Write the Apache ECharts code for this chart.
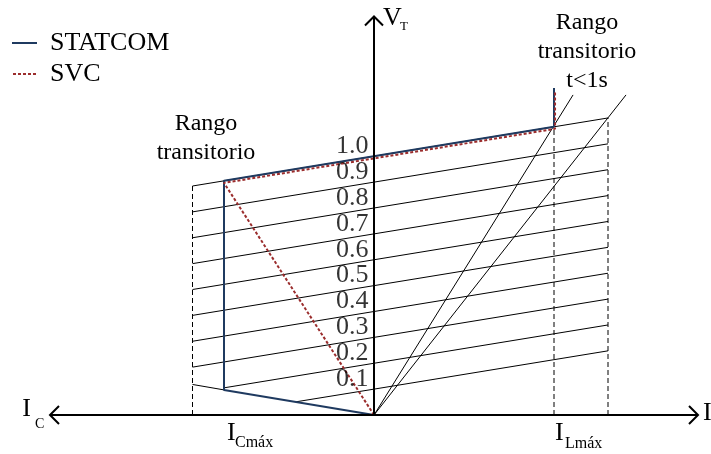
<!DOCTYPE html>
<html>
<head>
<meta charset="utf-8">
<script src="https://cdn.jsdelivr.net/npm/echarts@6/dist/echarts.min.js"></script>
<style>
  html, body { margin: 0; padding: 0; background: #fff; }
  #chart { width: 711px; height: 454px; }
</style>
</head>
<body>
<div id="chart"></div>
<script>
// ---- Rectas de carga del sistema (una por nivel de tensión) ----
const levelLabels = ['1.0', '0.9', '0.8', '0.7', '0.6', '0.5', '0.4', '0.3', '0.2', '0.1'];
const levelValues = [1.0, 0.9, 0.8, 0.7, 0.6, 0.5, 0.4, 0.3, 0.2, 0.1];
const lineStartI  = [-1.21, -1.21, -1.21, -1.21, -1.21, -1.21, -1.21, -1.21, -1.0, -0.52];
const lineStartV  = [0.885, 0.785, 0.685, 0.585, 0.485, 0.385, 0.285, 0.185, 0.105, 0.051];
const lineEndI    = 1.56;
const lineEndV    = [1.148, 1.048, 0.948, 0.848, 0.748, 0.648, 0.548, 0.448, 0.348, 0.248];

// ---- Característica del STATCOM ----
const statcomI = [0, -1.0, -1.0, 1.2, 1.2];
const statcomV = [0, 0.097, 0.905, 1.114, 1.264];

// ---- Característica del SVC ----
const svcI = [0, -1.0, 1.207, 1.207];
const svcV = [0, 0.897, 1.106, 1.248];

// Prolongación de la rama capacitiva
const capExtI = [-1.21, -1.0];
const capExtV = [0.118, 0.097];

// Rectas inductivas desde el origen
const indRayI = [1.327, 1.68];
const indRayV = [1.237, 1.237];

// Límites de corriente (verticales discontinuas)
const limitI = [-1.21, 1.2, 1.56];
const limitV = [0.885, 1.114, 1.148];

// Extensión de los ejes
const currentAxis = [-2.16, 2.16];
const voltageAxisTop = 1.54;

const SERIF = 'Liberation Serif';
const BLUE = '#1f3a60';
const RED = '#9b2d2d';

// Iconos de la leyenda: trazo continuo y trazo punteado
const ICON_SOLID = 'path://M0,0h25v2h-25z';
const ICON_DOTTED = 'path://M0,0h3v2h-3zM5,0h3v2h-3zM10,0h3v2h-3zM15,0h3v2h-3zM20,0h3v2h-3z';

const chart = echarts.init(document.getElementById('chart'), null, { renderer: 'canvas' });

const series = [];

// rectas de carga
levelValues.forEach((v, i) => {
  series.push({
    type: 'line', silent: true, symbol: 'none', z: 2,
    data: [[lineStartI[i], lineStartV[i]], [0, v], [lineEndI, lineEndV[i]]],
    lineStyle: { color: '#000', width: 1 }
  });
});

// límites discontinuos
limitI.forEach((x, i) => {
  series.push({
    type: 'line', silent: true, symbol: 'none', z: 2,
    data: [[x, 0], [x, limitV[i]]],
    lineStyle: { color: '#000', width: 1, type: [5, 3] }
  });
});

// prolongación capacitiva
series.push({
  type: 'line', silent: true, symbol: 'none', z: 2,
  data: capExtI.map((x, i) => [x, capExtV[i]]),
  lineStyle: { color: '#000', width: 1 }
});

// rectas inductivas
indRayI.forEach((x, i) => {
  series.push({
    type: 'line', silent: true, symbol: 'none', z: 2,
    data: [[0, 0], [x, indRayV[i]]],
    lineStyle: { color: '#000', width: 1 }
  });
});

// ejes
series.push({
  type: 'line', silent: true, symbol: 'none', z: 5,
  data: [[currentAxis[0], 0], [currentAxis[1], 0]],
  lineStyle: { color: '#000', width: 2 }
});
series.push({
  type: 'line', silent: true, symbol: 'none', z: 5,
  data: [[0, 0], [0, voltageAxisTop]],
  lineStyle: { color: '#000', width: 2 }
});

// puntas de flecha de los ejes
series.push({
  type: 'custom', silent: true, z: 6,
  data: [[currentAxis[1], 0, 0], [currentAxis[0], 0, 180], [0, voltageAxisTop, -90]],
  renderItem(params, api) {
    const p = api.coord([api.value(0), api.value(1)]);
    const a = api.value(2) * Math.PI / 180;
    const dx = Math.cos(a), dy = Math.sin(a);
    const px = -dy, py = dx;
    const back = 9, side = 9;
    return {
      type: 'polyline',
      shape: { points: [
        [p[0] - back * dx + side * px, p[1] - back * dy + side * py],
        [p[0], p[1]],
        [p[0] - back * dx - side * px, p[1] - back * dy - side * py]
      ] },
      style: { stroke: '#000', lineWidth: 2, fill: null }
    };
  }
});

// STATCOM
series.push({
  name: 'STATCOM', type: 'line', silent: true, symbol: 'none', z: 3,
  data: statcomI.map((x, i) => [x, statcomV[i]]),
  lineStyle: { color: BLUE, width: 2 },
  itemStyle: { color: BLUE }
});

// SVC
series.push({
  name: 'SVC', type: 'line', silent: true, symbol: 'none', z: 4,
  data: svcI.map((x, i) => [x, svcV[i]]),
  lineStyle: { color: RED, width: 2, type: [3, 2] },
  itemStyle: { color: RED }
});

// rótulos de nivel de tensión sobre el eje V
series.push({
  type: 'scatter', silent: true, z: 7,
  symbolSize: 1,
  itemStyle: { color: 'rgba(0,0,0,0)' },
  data: levelValues.map(v => [0, v]),
  label: {
    show: true,
    position: 'left',
    distance: 5,
    offset: [0, -10],
    formatter: p => levelLabels[p.dataIndex],
    fontFamily: SERIF,
    fontSize: 26,
    color: '#000'
  }
});

chart.setOption({
  animation: false,
  backgroundColor: '#fff',
  textStyle: { fontFamily: SERIF },
  grid: { left: 50, right: 13, top: 1, bottom: 39 },
  xAxis: { type: 'value', min: currentAxis[0], max: currentAxis[1], show: false },
  yAxis: { type: 'value', min: 0, max: 1.6, show: false },
  legend: {
    data: [
      { name: 'STATCOM', icon: ICON_SOLID },
      { name: 'SVC', icon: ICON_DOTTED }
    ],
    orient: 'vertical',
    left: 12,
    top: 30,
    padding: 0,
    itemGap: 5,
    itemWidth: 25,
    itemHeight: 2,
    selectedMode: false,
    textStyle: { fontFamily: SERIF, fontSize: 26, color: '#000', padding: [0, 0, 0, 8] }
  },
  series
});

// ---- Textos anclados a puntos del gráfico ----
const toPx = (x, y) => chart.convertToPixel({ gridIndex: 0 }, [x, y]);

function txt(x, y, text, size, align, lineHeight) {
  const style = {
    text, fill: '#000',
    fontFamily: SERIF,
    fontSize: size,
    align: align || 'left',
    verticalAlign: 'middle'
  };
  if (lineHeight) style.lineHeight = lineHeight;
  return { type: 'text', x, y, silent: true, style, z: 10 };
}

const tipV = toPx(0, voltageAxisTop);
const tipL = toPx(currentAxis[0], 0);
const tipR = toPx(currentAxis[1], 0);
const cMax = toPx(-1.0, 0);
const lMax = toPx(1.2, 0);
const leftNote = toPx(-1.12, 1.069);
const rightNote = toPx(1.42, 1.405);

chart.setOption({
  graphic: [
    // V_T
    txt(tipV[0] + 9, tipV[1] + 2, 'V', 26),
    txt(tipV[0] + 26, tipV[1] + 10.5, 'T', 13),
    // I_C
    txt(tipL[0] - 19, tipL[1] - 6, 'I', 26, 'right'),
    txt(tipL[0] - 15, tipL[1] + 9.5, 'C', 14),
    // I
    txt(tipR[0] + 5, tipR[1] - 1.5, 'I', 26),
    // I_Cmáx
    txt(cMax[0] + 3, cMax[1] + 18, 'I', 26),
    txt(cMax[0] + 11, cMax[1] + 28, 'Cmáx', 16),
    // I_Lmáx
    txt(lMax[0] + 1, lMax[1] + 18, 'I', 26),
    txt(lMax[0] + 11, lMax[1] + 29, 'Lmáx', 16),
    // rangos transitorios
    txt(leftNote[0], leftNote[1], 'Rango\ntransitorio', 24, 'center', 29),
    txt(rightNote[0], rightNote[1], 'Rango\ntransitorio\nt<1s', 24, 'center', 29)
  ]
});
</script>
</body>
</html>
